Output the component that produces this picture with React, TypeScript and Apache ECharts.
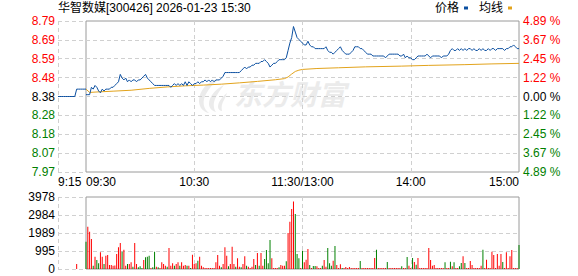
import React, { useEffect, useRef } from "react";
import * as echarts from "echarts";

// ---------- data ----------
const stockTitle = "华智数媒[300426] 2026-01-23 15:30";
const seriesNames = ["价格", "均线"];
const prevClose = 8.38;
const priceMin = 7.97;
const priceMax = 8.79;
const priceTickStep = 0.1025;
const volumeMax = 3978;
const volumeTickStep = 994.5;

const preMarketLabel = "9:15";
const sessionTimeLabels = ["09:30", "10:30", "11:30/13:00", "14:00", "15:00"];

// minutes -15 .. 0 (9:15 .. 9:30)
const preMarketPrices = [
  8.38, 8.38, 8.38, 8.38, 8.38, 8.38, 8.38, 8.38, 8.38, 8.38,
  8.42, 8.42, 8.42, 8.42, 8.42, 8.42,
];
const auctionMinute = -5;
const auctionVolume = 276;

// trading minutes 0 .. 240
const prices = [
  8.39, 8.39, 8.39, 8.43, 8.42, 8.44, 8.43, 8.41, 8.40, 8.42,
  8.41, 8.42, 8.42, 8.42, 8.43, 8.43, 8.44, 8.45, 8.46, 8.50,
  8.48, 8.47, 8.48, 8.46, 8.47, 8.46, 8.47, 8.47, 8.46, 8.47,
  8.47, 8.48, 8.49, 8.50, 8.48, 8.47, 8.46, 8.45, 8.44, 8.44,
  8.44, 8.44, 8.44, 8.44, 8.44, 8.44, 8.44, 8.43, 8.44, 8.45,
  8.44, 8.45, 8.44, 8.45, 8.44, 8.46, 8.44, 8.46, 8.45, 8.44,
  8.45, 8.45, 8.46, 8.45, 8.46, 8.46, 8.47, 8.46, 8.47, 8.46,
  8.47, 8.46, 8.47, 8.47, 8.47, 8.48, 8.49, 8.51, 8.51, 8.51,
  8.51, 8.51, 8.51, 8.51, 8.51, 8.51, 8.52, 8.53, 8.54, 8.53,
  8.54, 8.54, 8.55, 8.55, 8.56, 8.56, 8.56, 8.57, 8.57, 8.58,
  8.57, 8.56, 8.54, 8.55, 8.56, 8.56, 8.57, 8.58, 8.58, 8.58,
  8.58, 8.59, 8.63, 8.67, 8.70, 8.76, 8.73, 8.70, 8.69, 8.68,
  8.67, 8.66, 8.66, 8.68, 8.66, 8.65, 8.65, 8.64, 8.64, 8.64,
  8.64, 8.64, 8.64, 8.65, 8.63, 8.62, 8.62, 8.61, 8.62, 8.63,
  8.64, 8.65, 8.63, 8.62, 8.61, 8.61, 8.61, 8.62, 8.63, 8.65,
  8.65, 8.65, 8.64, 8.64, 8.63, 8.62, 8.61, 8.61, 8.61, 8.60,
  8.60, 8.60, 8.60, 8.60, 8.60, 8.60, 8.59, 8.60, 8.61, 8.61,
  8.61, 8.61, 8.61, 8.61, 8.60, 8.60, 8.61, 8.59, 8.60, 8.59,
  8.59, 8.58, 8.58, 8.59, 8.60, 8.60, 8.60, 8.60, 8.60, 8.61,
  8.60, 8.59, 8.60, 8.60, 8.60, 8.60, 8.60, 8.59, 8.60, 8.60,
  8.60, 8.61, 8.63, 8.64, 8.63, 8.63, 8.64, 8.63, 8.64, 8.63,
  8.64, 8.63, 8.64, 8.64, 8.63, 8.64, 8.63, 8.63, 8.64, 8.63,
  8.64, 8.63, 8.63, 8.64, 8.63, 8.64, 8.64, 8.63, 8.64, 8.64,
  8.64, 8.64, 8.63, 8.64, 8.64, 8.65, 8.65, 8.66, 8.65, 8.64,
  8.64,
];

const avgMinutes = [0, 2, 5, 15, 25, 35, 45, 55, 65, 75, 85, 95, 105, 110, 112, 114, 116, 118, 120, 128, 140, 155, 175, 190, 210, 225, 240];
const avgPrices = [8.42, 8.402, 8.404, 8.409, 8.414, 8.424, 8.432, 8.438, 8.442, 8.447, 8.454, 8.462, 8.471, 8.477, 8.486, 8.502, 8.516, 8.523, 8.527, 8.532, 8.536, 8.541, 8.545, 8.549, 8.553, 8.557, 8.56];

const volumes = [
  1509, 2337, 2061, 1656, 184, 681, 497, 313, 920, 681,
  276, 736, 773, 221, 221, 184, 200, 828, 1196, 1435,
  957, 1067, 184, 276, 276, 368, 129, 1435, 276, 92,
  147, 55, 497, 644, 681, 736, 55, 92, 957, 129,
  92, 55, 368, 276, 184, 129, 1159, 184, 313, 184,
  276, 368, 184, 368, 184, 221, 184, 184, 55, 791,
  276, 313, 460, 681, 184, 92, 55, 55, 55, 55,
  55, 55, 368, 773, 184, 92, 276, 1196, 736, 147,
  276, 1233, 276, 129, 589, 129, 92, 276, 699, 184,
  129, 55, 129, 552, 221, 883, 184, 883, 184, 552,
  1049, 313, 1601, 589, 55, 55, 55, 92, 221, 184,
  184, 423, 1987, 2613, 3312, 3735, 3036, 828, 600, 55,
  1012, 368, 515, 1104, 221, 55, 166, 166, 147, 55,
  55, 184, 497, 129, 1159, 313, 184, 460, 1270, 221,
  55, 258, 55, 55, 110, 55, 110, 55, 55, 55,
  55, 55, 442, 55, 55, 55, 55, 55, 55, 55,
  607, 1067, 55, 55, 55, 55, 55, 386, 55, 55,
  55, 55, 55, 55, 55, 147, 55, 55, 662, 184,
  55, 607, 386, 239, 607, 55, 55, 55, 55, 55,
  1159, 497, 184, 221, 55, 55, 55, 55, 55, 368,
  55, 55, 405, 147, 368, 55, 55, 147, 331, 699,
  331, 55, 55, 442, 221, 55, 55, 55, 55, 184,
  1067, 55, 515, 55, 55, 957, 773, 55, 828, 184,
  828, 386, 55, 920, 55, 699, 1049, 55, 55, 55,
  1325,
];
// 1 = up (red), -1 = down (green)
const volumeDirections = [
  -1, 1, 1, 1, -1, 1, -1, -1, 1, 1,
  -1, 1, 1, 1, 1, 1, 1, 1, 1, 1,
  -1, 1, 1, -1, 1, 1, -1, 1, 1, -1,
  -1, -1, 1, -1, -1, -1, 1, -1, -1, 1,
  -1, 1, 1, 1, 1, -1, 1, 1, 1, -1,
  1, 1, -1, 1, 1, 1, -1, 1, -1, 1,
  1, 1, -1, 1, 1, 1, 1, 1, 1, 1,
  1, 1, 1, 1, 1, -1, 1, 1, 1, -1,
  1, 1, 1, -1, 1, 1, -1, 1, 1, -1,
  1, 1, 1, 1, -1, 1, -1, 1, 1, -1,
  -1, -1, -1, 1, 1, 1, 1, -1, 1, 1,
  1, -1, 1, 1, 1, 1, -1, -1, -1, 1,
  -1, 1, 1, 1, -1, 1, -1, -1, 1, 1,
  1, -1, 1, 1, -1, -1, -1, 1, -1, 1,
  1, 1, -1, 1, 1, 1, 1, 1, 1, 1,
  1, 1, -1, 1, 1, 1, 1, 1, 1, 1,
  1, -1, 1, 1, 1, 1, 1, -1, 1, 1,
  1, 1, 1, 1, 1, -1, 1, 1, -1, 1,
  1, -1, 1, -1, 1, 1, 1, 1, 1, 1,
  1, 1, 1, 1, 1, 1, 1, 1, 1, -1,
  1, 1, -1, 1, -1, 1, 1, -1, -1, 1,
  -1, 1, 1, 1, 1, 1, 1, 1, 1, 1,
  -1, 1, 1, 1, 1, 1, 1, 1, 1, 1,
  1, -1, 1, 1, 1, 1, 1, 1, 1, 1,
  -1,
];

// ---------- styles ----------
const BLUE = "#0b4fa0";
const GOLD = "#e2a31c";
const RED = "#ff0000";
const GREEN = "#008000";
const GRID_LINE = "#d0d0d0";
const BORDER = "#9a9a9a";
const FONT = '"Liberation Sans", Arial, "Noto Sans CJK SC", sans-serif';

const logoPath =
  "M22 0 C10 2 2 12 2 22 C2 28 6 33 12 34 C6 30 5 22 9 15 C12 9 17 4 22 0 Z " +
  "M27 6 C18 10 12 18 12 25 C12 29 15 32 19 33 C16 29 16 23 19 18 C21 14 24 10 27 6 Z " +
  "M30 14 C25 18 21 23 21 28 C21 30 23 32 25 32 C24 28 25 24 27 21 C28 19 29 17 30 14 Z";
let logoRegistered = false;

const priceColor = (v: any) => {
  const n = Number(v);
  if (Math.abs(n - prevClose) < 0.001) return "#000000";
  return n > prevClose ? RED : GREEN;
};
const fmt2 = (v: number) => (Math.round(v * 100 + 1e-6) / 100).toFixed(2);

const dashed = { show: true, lineStyle: { color: GRID_LINE, type: [4, 3] as any, width: 1 } };

export default function App() {
  const ref = useRef<HTMLDivElement>(null);

  useEffect(() => {
    if (!ref.current) return;
    if (!logoRegistered) {
      echarts.graphic.registerShape("emLogo", echarts.graphic.extendPath(logoPath, {}) as any);
      logoRegistered = true;
    }
    const chart = echarts.init(ref.current, undefined, { renderer: "svg" });

    const priceAxisBase = {
      type: "value" as const,
      min: priceMin,
      max: priceMax,
      interval: priceTickStep,
      axisLine: { show: false },
      axisTick: { show: false },
    };
    const volAxisBase = {
      type: "value" as const,
      min: 0,
      max: volumeMax,
      interval: volumeTickStep,
      axisLine: { show: false },
      axisTick: { show: false },
    };
    const preAxis = {
      type: "value" as const,
      min: -15,
      max: 0,
      interval: 15,
      axisLine: { show: false },
      axisTick: { show: false },
    };
    const sessAxis = {
      type: "value" as const,
      min: 0,
      max: 240,
      interval: 60,
      axisLine: { show: false },
      axisTick: { show: false },
    };

    const option: any = {
      animation: false,
      backgroundColor: "#ffffff",
      textStyle: { fontFamily: FONT },
      title: {
        text: stockTitle,
        left: 58,
        top: 2,
        padding: 0,
        textStyle: { fontSize: 12, fontWeight: "normal", color: "#000", fontFamily: FONT },
      },
      legend: {
        data: [
          { name: seriesNames[0], icon: "rect" },
          { name: seriesNames[1], icon: "rect" },
        ],
        right: 66,
        top: 2,
        padding: 0,
        align: "right",
        itemWidth: 4,
        itemHeight: 3,
        itemGap: 11,
        textStyle: { fontSize: 12, color: "#000", fontFamily: FONT },
      },
      graphic: [
        {
          type: "emLogo",
          x: 197,
          y: 79,
          z: -1,
          silent: true,
          style: { fill: "#ebebeb" },
        },
        {
          type: "text",
          x: 234,
          y: 79,
          z: -1,
          silent: true,
          style: {
            text: "东方财富",
            fill: "#ebebeb",
            font: 'italic bold 28px "Noto Sans CJK SC"',
          },
        },
      ],
      grid: [
        { left: 58, top: 21, width: 28, height: 151, show: false },
        { left: 86, top: 21, width: 433, height: 151, show: true, borderColor: BORDER, borderWidth: 1, backgroundColor: "transparent" },
        { left: 58, top: 197, width: 28, height: 72, show: false },
        { left: 86, top: 197, width: 433, height: 72, show: true, borderColor: BORDER, borderWidth: 1, backgroundColor: "transparent" },
      ],
      xAxis: [
        {
          ...preAxis,
          gridIndex: 0,
          axisLabel: {
            show: true,
            align: "left",
            margin: 4,
            fontSize: 12,
            color: "#000",
            formatter: (v: number) => (v === -15 ? preMarketLabel : ""),
          },
          splitLine: { ...dashed, showMaxLine: false },
        },
        {
          ...sessAxis,
          gridIndex: 1,
          axisLabel: {
            show: true,
            margin: 4,
            fontSize: 12,
            color: "#000",
            alignMinLabel: "left",
            alignMaxLabel: "right",
            formatter: (v: number) => sessionTimeLabels[Math.round(v / 60)] ?? "",
          },
          splitLine: { ...dashed, showMinLine: false, showMaxLine: false },
        },
        {
          ...preAxis,
          gridIndex: 2,
          axisLabel: { show: false },
          splitLine: { ...dashed, showMaxLine: false },
        },
        {
          ...sessAxis,
          gridIndex: 3,
          axisLabel: { show: false },
          splitLine: { ...dashed, showMinLine: false, showMaxLine: false },
        },
      ],
      yAxis: [
        {
          ...priceAxisBase,
          gridIndex: 0,
          axisLabel: {
            show: true,
            margin: 3,
            fontSize: 12,
            formatter: (v: number) => fmt2(v),
            color: priceColor,
          },
          splitLine: dashed,
        },
        {
          ...priceAxisBase,
          gridIndex: 1,
          axisLabel: { show: false },
          splitLine: { ...dashed, showMinLine: false, showMaxLine: false },
        },
        {
          ...priceAxisBase,
          gridIndex: 1,
          position: "right",
          axisLabel: {
            show: true,
            margin: 4,
            fontSize: 12,
            formatter: (v: number) => ((Math.abs(v - prevClose) / prevClose) * 100).toFixed(2) + " %",
            color: priceColor,
          },
          splitLine: { show: false },
        },
        {
          ...volAxisBase,
          gridIndex: 2,
          axisLabel: {
            show: true,
            margin: 3,
            fontSize: 12,
            color: "#000",
            formatter: (v: number) => String(Math.round(v)),
          },
          splitLine: dashed,
        },
        {
          ...volAxisBase,
          gridIndex: 3,
          axisLabel: { show: false },
          splitLine: { ...dashed, showMinLine: false, showMaxLine: false },
        },
      ],
      series: [
        {
          name: seriesNames[0],
          type: "line",
          xAxisIndex: 0,
          yAxisIndex: 0,
          symbol: "none",
          lineStyle: { color: BLUE, width: 1 },
          itemStyle: { color: BLUE },
          data: preMarketPrices.map((p, i) => [i - 15, p]),
          z: 3,
        },
        {
          name: seriesNames[0],
          type: "line",
          xAxisIndex: 1,
          yAxisIndex: 1,
          symbol: "none",
          lineStyle: { color: BLUE, width: 1 },
          itemStyle: { color: BLUE },
          data: prices.map((p, i) => [i, p]),
          z: 4,
        },
        {
          name: seriesNames[1],
          type: "line",
          xAxisIndex: 1,
          yAxisIndex: 1,
          symbol: "none",
          lineStyle: { color: GOLD, width: 1 },
          itemStyle: { color: GOLD },
          data: avgMinutes.map((m, i) => [m, avgPrices[i]]),
          z: 3,
        },
        {
          type: "bar",
          xAxisIndex: 2,
          yAxisIndex: 3,
          barWidth: 1,
          itemStyle: { color: RED },
          data: [[auctionMinute, auctionVolume]],
        },
        {
          type: "bar",
          xAxisIndex: 3,
          yAxisIndex: 4,
          barWidth: 1,
          data: volumes.map((v, i) => ({
            value: [i, v],
            itemStyle: { color: volumeDirections[i] > 0 ? RED : GREEN },
          })),
        },
      ],
    };

    chart.setOption(option);
    return () => chart.dispose();
  }, []);

  return (
    <div
      ref={ref}
      style={{ position: "absolute", left: 0, top: 0, width: 578, height: 276, background: "#fff" }}
    />
  );
}
